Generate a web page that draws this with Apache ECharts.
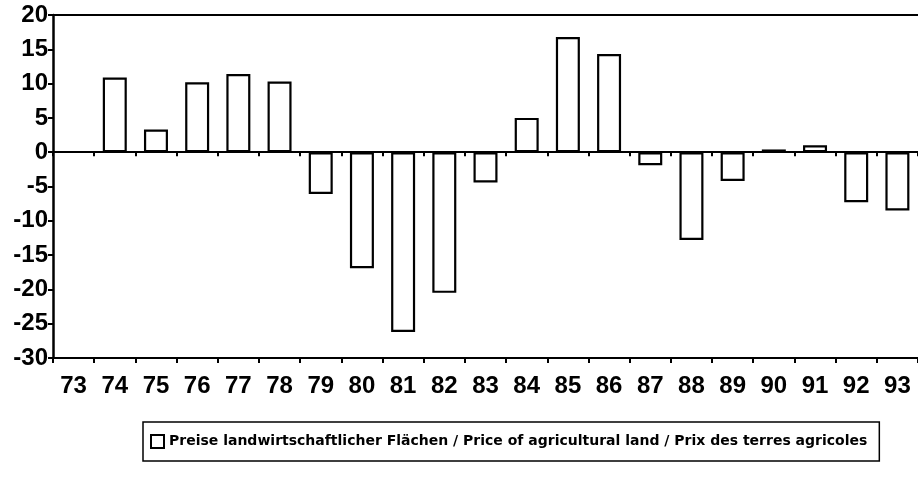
<!DOCTYPE html>
<html>
<head>
<meta charset="utf-8">
<script src="https://cdn.jsdelivr.net/npm/echarts@6/dist/echarts.min.js"></script>
<style>
  html, body { margin: 0; padding: 0; background: #fff; }
  #chart { width: 918px; height: 477px; }
</style>
</head>
<body>
<div id="chart"></div>
<script>
// Jahre (19xx)
const years = ['73', '74', '75', '76', '77', '78', '79', '80', '81', '82', '83',
               '84', '85', '86', '87', '88', '89', '90', '91', '92', '93'];
// Veränderung der Preise in %
const landPrice = [null, 10.9, 3.3, 10.2, 11.4, 10.3, -6.1, -16.9, -26.2, -20.5, -4.4,
                   5.0, 16.8, 14.3, -1.9, -12.8, -4.2, 0.4, 1.0, -7.3, -8.5];
const seriesName = 'Preise landwirtschaftlicher Flächen / Price of agricultural land / Prix des terres agricoles';

const font = "'Liberation Sans', Arial, sans-serif";
const chart = echarts.init(document.getElementById('chart'));

const option = {
    animation: false,
    backgroundColor: '#fff',
    grid: { left: 53, top: 15, width: 873, height: 343, show: false },
    legend: {
        data: [seriesName],
        left: 143, top: 422,
        padding: [12, 12, 12, 7],
        borderColor: '#000', borderWidth: 1.5,
        icon: 'rect', itemWidth: 13, itemHeight: 13, itemGap: 0,
        textStyle: { fontFamily: "'DejaVu Sans', sans-serif", fontWeight: 'bold', fontSize: 14, color: '#000' }
    },
    xAxis: [
        {   // Nulllinie
            type: 'category', data: years,
            axisLine: { onZero: true, lineStyle: { color: '#000', width: 2 } },
            axisTick: { show: true, length: 4, lineStyle: { color: '#000', width: 2 } },
            axisLabel: { show: false }
        },
        {   // untere Achse mit Beschriftung
            type: 'category', data: years, position: 'bottom',
            axisLine: { onZero: false, lineStyle: { color: '#000', width: 2 } },
            axisTick: { show: true, length: 5, lineStyle: { color: '#000', width: 2 } },
            axisLabel: { margin: 16, fontFamily: font, fontWeight: 'bold', fontSize: 24, color: '#000' }
        },
        {   // oberer Rahmen
            type: 'category', data: years, position: 'top',
            axisLine: { onZero: false, lineStyle: { color: '#000', width: 2 } },
            axisTick: { show: false }, axisLabel: { show: false }
        }
    ],
    yAxis: {
        type: 'value', min: -30, max: 20, interval: 5,
        splitLine: { show: false },
        axisLine: { show: true, lineStyle: { color: '#000', width: 2.5 } },
        axisTick: { show: true, length: 5, lineStyle: { color: '#000', width: 2 } },
        axisLabel: { margin: 5, fontFamily: font, fontWeight: 'bold', fontSize: 24, color: '#000' }
    },
    series: [{
        name: seriesName,
        type: 'bar',
        xAxisIndex: 0,
        data: landPrice,
        barWidth: 24,
        itemStyle: { color: '#fff', borderColor: '#000', borderWidth: 2.2 }
    }]
};
chart.setOption(option);
</script>
</body>
</html>
